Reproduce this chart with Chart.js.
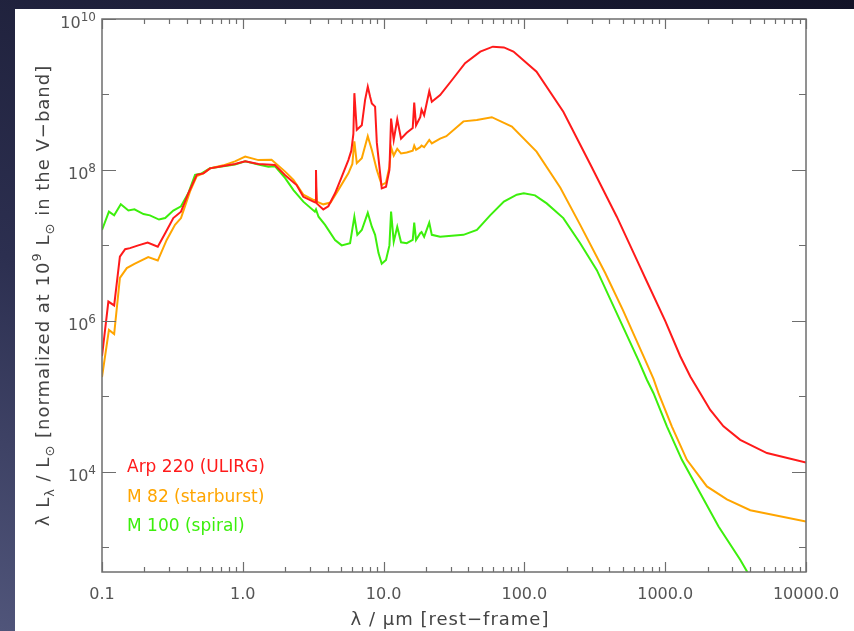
<!DOCTYPE html>
<html>
<head>
<meta charset="utf-8">
<script src="https://cdn.jsdelivr.net/npm/chart.js@4"></script>
<style>
  html, body { margin: 0; padding: 0; }
  body {
    width: 854px; height: 631px; overflow: hidden; position: relative;
    background: linear-gradient(20deg, #50557a 0%, #2c2f50 40%, #121327 100%);
  }
  #panel { position: absolute; left: 15px; top: 9px; width: 839px; height: 622px; background: #fff; }
</style>
</head>
<body>
<div id="panel"><canvas id="sedChart"></canvas></div>
<script>
// wavelength in micron, lambda*L_lambda normalised to 1e9 Lsun in V band
const arp220Wave = [0.1, 0.111, 0.122, 0.134, 0.146, 0.158, 0.181, 0.211, 0.249, 0.281, 0.321, 0.364, 0.41, 0.471, 0.525, 0.585, 0.727, 0.88, 1.04, 1.29, 1.69, 2.0, 2.41, 2.69, 3.17, 3.28, 3.31, 3.35, 3.73, 4.05, 4.52, 5.04, 5.62, 5.9, 6.1, 6.2, 6.45, 7.0, 7.39, 7.72, 8.02, 8.25, 8.7, 8.95, 9.7, 10.4, 11.0, 11.3, 11.8, 12.5, 13.3, 14.6, 16.1, 16.5, 17.0, 18.2, 18.6, 19.4, 21.1, 22.0, 25.2, 31.3, 37.9, 48.6, 59.7, 71.5, 83.6, 122, 189, 293, 453, 663, 721, 1000, 1279, 1507, 1775, 2089, 2594, 3410, 5280, 10000];
const arp220Lum = [3.4e5, 1.8e6, 1.6e6, 7.1e6, 8.9e6, 9.2e6, 1.0e7, 1.09e7, 9.6e6, 1.45e7, 2.3e7, 2.8e7, 4.9e7, 8.6e7, 9.0e7, 1.05e8, 1.13e8, 1.2e8, 1.3e8, 1.2e8, 1.16e8, 8.5e7, 6.3e7, 4.4e7, 3.8e7, 3.7e7, 1.0e8, 3.6e7, 3.0e7, 3.3e7, 4.9e7, 8.1e7, 1.35e8, 1.8e8, 3.0e8, 1.04e9, 3.4e8, 3.9e8, 8.5e8, 1.27e9, 9.3e8, 7.6e8, 6.9e8, 2.3e8, 5.7e7, 6.0e7, 1.0e8, 4.8e8, 2.5e8, 4.7e8, 2.6e8, 3.1e8, 3.6e8, 7.8e8, 3.9e8, 5.0e8, 6.3e8, 5.3e8, 1.1e9, 8.0e8, 9.8e8, 1.64e9, 2.6e9, 3.7e9, 4.3e9, 4.2e9, 3.7e9, 2.0e9, 5.9e8, 1.2e8, 2.4e7, 5.2e6, 3.7e6, 1.0e6, 3.4e5, 1.83e5, 1.1e5, 6.6e4, 4.0e4, 2.65e4, 1.77e4, 1.33e4];

const m82Wave = [0.1, 0.112, 0.122, 0.134, 0.15, 0.17, 0.213, 0.249, 0.288, 0.33, 0.364, 0.422, 0.471, 0.525, 0.585, 0.727, 0.88, 1.04, 1.29, 1.6, 2.0, 2.29, 2.69, 3.17, 3.28, 3.31, 3.35, 3.73, 4.2, 4.76, 5.62, 6.0, 6.2, 6.45, 7.0, 7.72, 8.25, 8.95, 9.7, 10.4, 11.0, 11.3, 11.8, 12.5, 13.3, 14.6, 16.1, 16.5, 17.0, 18.2, 18.6, 19.4, 21.1, 22.0, 25.2, 27.9, 36.9, 45.9, 58.7, 81.5, 122, 180, 249, 375, 500, 701, 826, 896, 1114, 1425, 1977, 2742, 4018, 10000];
const m82Lum = [1.8e5, 7.6e5, 6.7e5, 3.7e6, 5.0e6, 5.7e6, 7.0e6, 6.3e6, 1.18e7, 1.87e7, 2.3e7, 5.2e7, 8.3e7, 9.0e7, 1.05e8, 1.15e8, 1.3e8, 1.5e8, 1.35e8, 1.36e8, 9.5e7, 7.4e7, 4.7e7, 4.0e7, 4.0e7, 6.0e7, 3.8e7, 3.5e7, 3.7e7, 5.4e7, 9.0e7, 1.2e8, 2.4e8, 1.23e8, 1.43e8, 2.8e8, 1.84e8, 1.0e8, 6.3e7, 6.8e7, 1.1e8, 2.0e8, 1.55e8, 1.9e8, 1.65e8, 1.7e8, 1.8e8, 2.1e8, 1.85e8, 2.0e8, 2.1e8, 2.0e8, 2.5e8, 2.25e8, 2.6e8, 2.8e8, 4.4e8, 4.6e8, 5.0e8, 3.75e8, 1.75e8, 5.8e7, 1.87e7, 4.3e6, 1.4e6, 3.4e5, 1.7e5, 1.1e5, 4.0e4, 1.44e4, 6.4e3, 4.3e3, 3.1e3, 2.2e3];

const m100Wave = [0.1, 0.112, 0.122, 0.136, 0.154, 0.17, 0.197, 0.219, 0.254, 0.281, 0.321, 0.364, 0.41, 0.458, 0.51, 0.585, 0.727, 0.88, 1.04, 1.29, 1.52, 1.69, 2.0, 2.29, 2.69, 3.25, 3.31, 3.45, 3.84, 4.52, 5.04, 5.78, 6.2, 6.51, 7.0, 7.72, 8.25, 8.7, 9.2, 9.7, 10.4, 11.0, 11.3, 11.8, 12.5, 13.3, 14.6, 16.1, 16.5, 17.0, 18.2, 18.6, 19.4, 21.1, 22.0, 25.2, 36.9, 46, 57.1, 71.5, 88.3, 99, 119, 144, 189, 249, 327, 646, 741, 826, 1028, 1314, 1775, 2393, 3410, 3802, 4500];
const m100Lum = [1.6e7, 2.8e7, 2.5e7, 3.5e7, 2.9e7, 3.0e7, 2.6e7, 2.5e7, 2.2e7, 2.3e7, 2.9e7, 3.3e7, 4.9e7, 8.6e7, 9.0e7, 1.05e8, 1.12e8, 1.18e8, 1.3e8, 1.18e8, 1.1e8, 1.12e8, 7.8e7, 5.4e7, 3.8e7, 2.8e7, 3.0e7, 2.4e7, 1.87e7, 1.18e7, 1.0e7, 1.07e7, 2.4e7, 1.38e7, 1.6e7, 2.7e7, 1.77e7, 1.38e7, 7.9e6, 5.7e6, 6.4e6, 1.0e7, 2.8e7, 1.12e7, 1.77e7, 1.1e7, 1.07e7, 1.18e7, 2.0e7, 1.18e7, 1.45e7, 1.5e7, 1.3e7, 2.0e7, 1.38e7, 1.3e7, 1.38e7, 1.6e7, 2.5e7, 3.8e7, 4.7e7, 4.9e7, 4.6e7, 3.6e7, 2.3e7, 1.07e7, 4.7e6, 3.0e5, 1.66e5, 1.1e5, 4.0e4, 1.44e4, 5.2e3, 1.88e3, 683, 480, 250];

const seriesNames = ["Arp 220 (ULIRG)", "M 82 (starburst)", "M 100 (spiral)"];
const seriesColors = ["#ff1a1a", "#ffa500", "#3cef0c"];

const xTickValues = [0.1, 1, 10, 100, 1000, 10000];
const xTickLabels = ["0.1", "1.0", "10.0", "100.0", "1000.0", "10000.0"];
const yTickValues = [1e4, 1e6, 1e8, 1e10];
const yTickExponents = ["4", "6", "8", "10"];
const yMinorValues = [1e3, 1e5, 1e7, 1e9];

const xMinorValues = [];
[0.1, 1, 10, 100, 1000].forEach((d) => {
  for (let m = 2; m <= 9; m++) xMinorValues.push(d * m);
});

const FONT = '"DejaVu Sans", "Liberation Sans", sans-serif';
const AXIS_GRAY = "#6e6e6e";
const TEXT_GRAY = "#555555";

function toPoints(wave, lum) {
  return wave.map((w, i) => ({ x: w, y: lum[i] }));
}

// draws a run of text pieces: 0 = normal, 1 = subscript, 2 = superscript
function richWidth(ctx, parts, size) {
  let w = 0;
  parts.forEach(([t, s]) => {
    ctx.font = `${s ? Math.round(size * 0.72) : size}px ${FONT}`;
    w += ctx.measureText(t).width;
  });
  return w;
}

function drawRich(ctx, parts, x, y, size) {
  let cx = x;
  parts.forEach(([t, s]) => {
    ctx.font = `${s ? Math.round(size * 0.72) : size}px ${FONT}`;
    const dy = s === 1 ? size * 0.28 : s === 2 ? -size * 0.42 : 0;
    ctx.fillText(t, cx, y + dy);
    cx += ctx.measureText(t).width;
  });
}

const yTitleParts = [
  ["λ L", 0], ["λ", 1], [" / L", 0], ["⊙", 1],
  [" [normalized at 10", 0], ["9", 2], [" L", 0], ["⊙", 1], [" in the V−band]", 0]
];

const axisFrame = {
  id: "axisFrame",
  afterDraw(chart) {
    const { ctx, chartArea: a, scales } = chart;
    const xs = scales.x, ys = scales.y;
    ctx.save();

    ctx.strokeStyle = AXIS_GRAY;
    ctx.lineWidth = 1.5;
    ctx.strokeRect(a.left, a.top, a.right - a.left, a.bottom - a.top);

    ctx.lineWidth = 1.2;
    ctx.beginPath();
    const xTick = (v, len) => {
      const px = Math.round(xs.getPixelForValue(v)) + 0.5;
      ctx.moveTo(px, a.bottom); ctx.lineTo(px, a.bottom - len);
      ctx.moveTo(px, a.top); ctx.lineTo(px, a.top + len);
    };
    const yTick = (v, len) => {
      const py = Math.round(ys.getPixelForValue(v)) + 0.5;
      ctx.moveTo(a.left, py); ctx.lineTo(a.left + len, py);
      ctx.moveTo(a.right, py); ctx.lineTo(a.right - len, py);
    };
    xTickValues.forEach((v) => xTick(v, 10));
    xMinorValues.forEach((v) => xTick(v, 5));
    yTickValues.forEach((v) => yTick(v, 14));
    yMinorValues.forEach((v) => yTick(v, 7));
    ctx.stroke();

    // x tick labels
    ctx.fillStyle = TEXT_GRAY;
    ctx.font = `16px ${FONT}`;
    ctx.textAlign = "center";
    ctx.textBaseline = "middle";
    xTickValues.forEach((v, i) => {
      ctx.fillText(xTickLabels[i], xs.getPixelForValue(v), a.bottom + 23);
    });

    // y tick labels 10^n
    ctx.textAlign = "left";
    ctx.textBaseline = "alphabetic";
    yTickValues.forEach((v, i) => {
      const py = ys.getPixelForValue(v);
      const parts = [["10", 0], [yTickExponents[i], 2]];
      const w = richWidth(ctx, parts, 16);
      drawRich(ctx, parts, a.left - 6 - w, py + 9, 16);
    });

    // axis titles
    ctx.fillStyle = "#444";
    ctx.letterSpacing = "1px";
    ctx.font = `18px ${FONT}`;
    ctx.textAlign = "center";
    ctx.textBaseline = "middle";
    ctx.fillText("λ / μm [rest−frame]", (a.left + a.right) / 2 - 4, a.bottom + 48);

    ctx.save();
    ctx.translate(a.left - 59, (a.top + a.bottom) / 2);
    ctx.rotate(-Math.PI / 2);
    ctx.textAlign = "left";
    ctx.textBaseline = "alphabetic";
    const tw = richWidth(ctx, yTitleParts, 18);
    drawRich(ctx, yTitleParts, -tw / 2, 6, 18);
    ctx.restore();
    ctx.letterSpacing = "0px";

    // legend inside the plot
    ctx.font = `17px ${FONT}`;
    ctx.textAlign = "left";
    ctx.textBaseline = "middle";
    chart.data.datasets.forEach((ds, i) => {
      ctx.fillStyle = ds.borderColor;
      ctx.fillText(ds.label, a.left + 25, a.top + 449 + i * 29.5);
    });

    ctx.restore();
  }
};

const ctx = document.getElementById("sedChart").getContext("2d");
new Chart(ctx, {
  type: "scatter",
  data: {
    datasets: [
      [arp220Wave, arp220Lum],
      [m82Wave, m82Lum],
      [m100Wave, m100Lum]
    ].map(([w, l], i) => ({
      label: seriesNames[i],
      data: toPoints(w, l),
      showLine: true,
      borderColor: seriesColors[i],
      backgroundColor: seriesColors[i],
      borderWidth: 2,
      pointRadius: 0,
      tension: 0
    }))
  },
  options: {
    responsive: true,
    maintainAspectRatio: false,
    animation: false,
    layout: { padding: { top: 10, right: 48, left: 0, bottom: 0 } },
    plugins: { legend: { display: false }, tooltip: { enabled: false } },
    scales: {
      x: {
        type: "logarithmic",
        min: 0.1,
        max: 10000,
        grid: { display: false },
        border: { display: false },
        ticks: { display: false },
        afterFit(scale) { scale.height = 59; }
      },
      y: {
        type: "logarithmic",
        min: 470,
        max: 1e10,
        grid: { display: false },
        border: { display: false },
        ticks: { display: false },
        afterFit(scale) { scale.width = 87; }
      }
    }
  },
  plugins: [axisFrame]
});
</script>
</body>
</html>
